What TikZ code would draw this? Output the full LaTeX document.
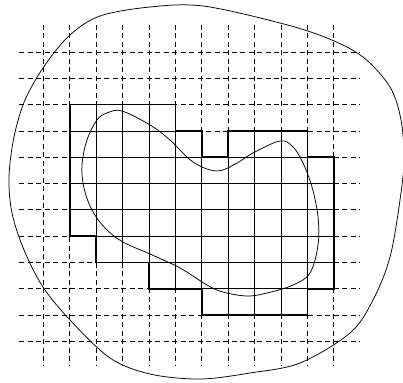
\documentclass[tikz,border=0pt]{standalone}
\begin{document}
\begin{tikzpicture}[x=1pt,y=-1pt,
  thinline/.style={line width=0.65pt},
  gridd/.style={line width=0.65pt, dash pattern=on 5pt off 3.5pt},
  boundary/.style={line width=1.6pt, line join=miter},
  curve/.style={line width=0.75pt}]
\useasboundingbox (0,0) rectangle (403,382);
\begin{scope}[shift={(43.3,52)}, x=26.4pt, y=-26.3pt]
  \foreach \k in {0,...,11} {
    \draw[gridd] (\k,-1.03) -- (\k,11.9);
    \draw[gridd] (-0.92,\k) -- (12.0,\k);
  }
  \begin{scope}
    \clip (1,2) -- (5,2) -- (5,3) -- (6,3) -- (6,4) -- (7,4) -- (7,3) -- (10,3) -- (10,4) -- (11,4) -- (11,9) -- (10,9) -- (10,10) -- (6,10) -- (6,9) -- (4,9) -- (4,8) -- (2,8) -- (2,7) -- (1,7) -- cycle;
    \foreach \k in {0,...,11} {
      \draw[thinline] (\k,0) -- (\k,11);
      \draw[thinline] (0,\k) -- (11,\k);
    }
  \end{scope}
  \draw[boundary] (1,2) -- (5,2) -- (5,3) -- (6,3) -- (6,4) -- (7,4) -- (7,3) -- (10,3) -- (10,4) -- (11,4) -- (11,9) -- (10,9) -- (10,10) -- (6,10) -- (6,9) -- (4,9) -- (4,8) -- (2,8) -- (2,7) -- (1,7) -- cycle;
\end{scope}
% outer curve
\draw[curve] plot[smooth cycle, tension=0.55] coordinates {
  (203,6) (280,23) (327,38) (363,57) (390,87) (401,120) (404,160) (400,200)
  (390,257) (373,300) (350,333) (300,363) (250,373) (200,379) (150,374)
  (110,358) (70,320) (43,287) (24,250) (12,213) (9,177) (14,137) (25,100)
  (45,65) (70,35) (100,16) (150,7)};
% inner curve
\draw[curve] plot[smooth cycle, tension=0.6] coordinates {
  (122,111) (150,125) (170,140) (193,162) (217,171) (237,163) (253,153)
  (280,141) (293,147) (303,163) (312,187) (318,217) (318,245) (310,273)
  (293,285) (267,293) (247,296) (223,292) (207,285) (180,268) (150,254)
  (123,242) (105,228) (92,210) (84,188) (82,165) (87,140) (97,120) (107,113)};
\end{tikzpicture}
\end{document}
